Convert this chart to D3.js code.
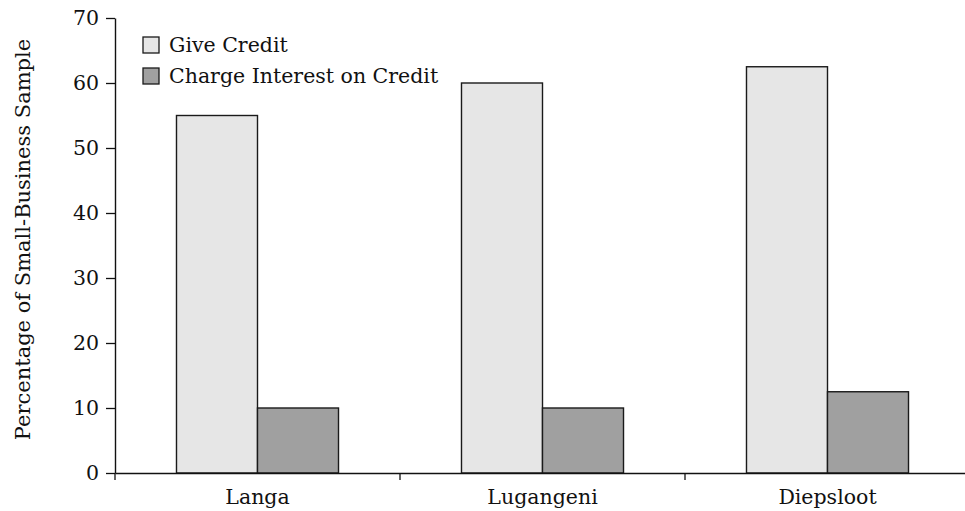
<!DOCTYPE html>
<html><head><meta charset="utf-8">
<script src="https://cdn.jsdelivr.net/npm/d3@7"></script>
<style>
html,body{margin:0;padding:0;background:#fff;}
svg{display:block;font-family:"DejaVu Serif",serif;}
</style></head>
<body><svg id="c" width="965" height="511"></svg>
<script>
const categories = ["Langa", "Lugangeni", "Diepsloot"];
const seriesNames = ["Give Credit", "Charge Interest on Credit"];
const giveCredit = [55, 60, 62.5];
const chargeInterest = [10, 10, 12.5];
const yTicks = [0, 10, 20, 30, 40, 50, 60, 70];
const colors = ["#e6e6e6", "#a0a0a0"];

const svg = d3.select("#c");
const x0 = 115, x1 = 970, yTop = 18, yBot = 473;
const fs = 20.5;

const x = d3.scaleBand().domain(categories).range([x0, x1]).paddingInner(0).paddingOuter(0);
const xs = d3.scaleBand().domain(seriesNames).range([0, x.bandwidth()]).paddingInner(0).paddingOuter(0.759);
const y = d3.scaleLinear().domain([0, 70]).range([yBot, yTop]);

const data = categories.map((c, i) => ({cat: c, vals: [giveCredit[i], chargeInterest[i]]}));

const g = svg.append("g");
data.forEach(d => {
  d.vals.forEach((v, j) => {
    g.append("rect")
      .attr("x", x(d.cat) + xs(seriesNames[j]))
      .attr("y", y(v))
      .attr("width", xs.bandwidth())
      .attr("height", y(0) - y(v))
      .attr("fill", colors[j])
      .attr("stroke", "#1a1a1a")
      .attr("stroke-width", 1.4);
  });
});

// y axis
const ya = svg.append("g").attr("transform", `translate(${x0},0)`)
  .call(d3.axisLeft(y).tickValues(yTicks).tickSize(9).tickPadding(7).tickSizeOuter(0));
ya.select(".domain").attr("stroke", "#111").attr("stroke-width", 1.4);
ya.selectAll(".tick line").attr("stroke", "#111").attr("stroke-width", 1.3);
ya.selectAll("text").attr("font-size", fs).attr("font-family", "DejaVu Serif").attr("fill", "#111");

// x axis
const xa = svg.append("g").attr("transform", `translate(0,${yBot})`)
  .call(d3.axisBottom(x).tickSize(0).tickPadding(16).tickSizeOuter(0));
xa.select(".domain").attr("stroke", "#111").attr("stroke-width", 1.4);
xa.selectAll("text").attr("font-size", fs).attr("font-family", "DejaVu Serif").attr("fill", "#111");
// boundary ticks
const bounds = categories.map(c => x(c)).concat([x1]);
svg.append("g").selectAll("line").data(bounds).join("line")
  .attr("x1", d => d).attr("x2", d => d)
  .attr("y1", yBot).attr("y2", yBot + 7)
  .attr("stroke", "#111").attr("stroke-width", 1.3);

// y label
svg.append("text")
  .attr("transform", `translate(30,${(38+441)/2}) rotate(-90)`)
  .attr("text-anchor", "middle")
  .attr("font-size", 21)
  .attr("fill", "#111")
  .text("Percentage of Small-Business Sample");

// legend
const lg = svg.append("g");
seriesNames.forEach((s, i) => {
  const yy = 37 + i * 31;
  lg.append("rect").attr("x", 143).attr("y", yy).attr("width", 16).attr("height", 16)
    .attr("fill", colors[i]).attr("stroke", "#1a1a1a").attr("stroke-width", 1.3);
  lg.append("text").attr("x", 169).attr("y", yy + 15).attr("font-size", fs).attr("fill", "#111").text(s);
});
</script></body></html>
